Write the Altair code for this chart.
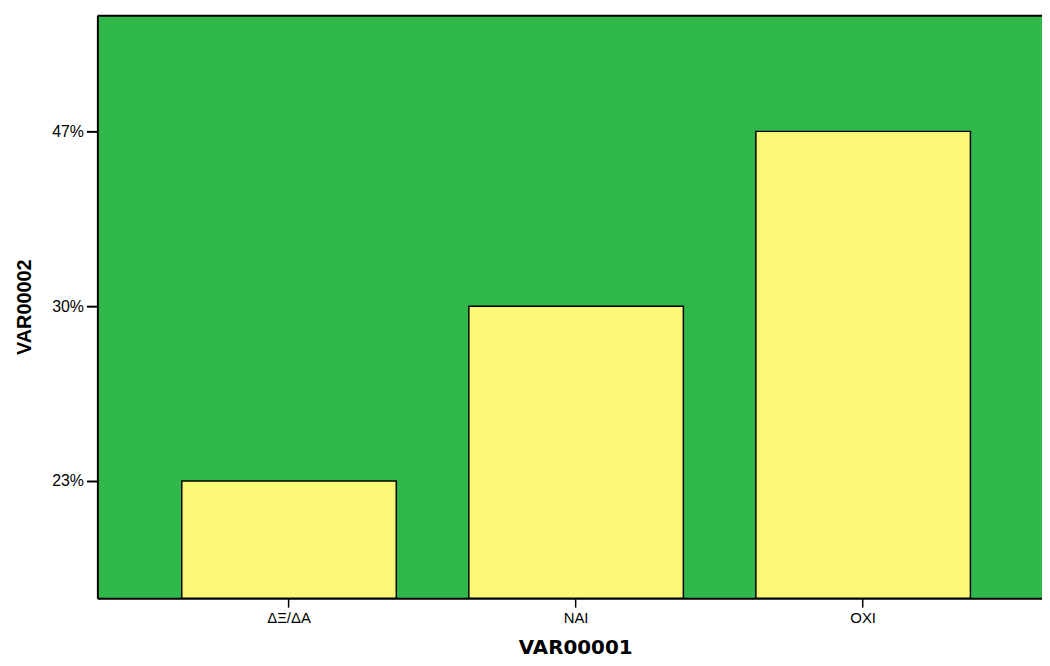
import altair as alt
import pandas as pd

# Data
categories = ["ΔΞ/ΔΑ", "ΝΑΙ", "ΟΧΙ"]
percent = [23.33, 30.0, 46.67]

df = pd.DataFrame({"VAR00001": categories, "VAR00002": percent})

GREEN = "#31B84B"
YELLOW = "#FBF777"

W, H = 951, 587
y_lo, y_hi = 18.86, 57.75

x_scale = alt.Scale(paddingInner=0.2526, paddingOuter=0.2716, align=0.541)
y_scale = alt.Scale(
    domain=[y_lo] + percent + [y_hi],
    range=[587, 469, 293, 117, 0],
    zero=False,
    nice=False,
)

base = alt.Chart(df)

bars = base.mark_bar(color=YELLOW, stroke="black", strokeWidth=1.5).encode(
    x=alt.X(
        "VAR00001:N",
        sort=categories,
        scale=x_scale,
        axis=alt.Axis(
            orient="bottom",
            title="VAR00001",
            labelAngle=0,
            labelFont="Liberation Sans",
            labelFontSize=15,
            labelColor="black",
            labelPadding=3,
            tickSize=9,
            tickWidth=1.5,
            tickColor="black",
            domainColor="black",
            domainWidth=2,
            titleFont="DejaVu Sans",
            titleFontSize=20,
            titleFontWeight="bold",
            titleColor="black",
            titleX=481,
            titleY=56,
            titleBaseline="alphabetic",
            grid=False,
        ),
    ),
    y=alt.Y(
        "VAR00002:Q",
        scale=y_scale,
        axis=alt.Axis(
            orient="left",
            values=percent,
            labelExpr="format(datum.value, '.0f') + '%'",
            title="VAR00002",
            labelFont="Liberation Sans",
            labelFontSize=16,
            labelColor="black",
            labelPadding=3,
            tickSize=11,
            tickWidth=2,
            tickColor="black",
            domainColor="black",
            domainWidth=2,
            titleFont="Liberation Sans",
            titleFontSize=20,
            titleFontWeight="bold",
            titleColor="black",
            titleX=-67,
            titleY=293.5,
            titleBaseline="alphabetic",
            grid=False,
        ),
    ),
    y2=alt.Y2Datum(y_lo),
)

top_border = base.mark_bar(opacity=0).encode(
    x=alt.X(
        "VAR00001:N",
        sort=categories,
        scale=x_scale,
        axis=alt.Axis(
            orient="top",
            labels=False,
            ticks=False,
            title=None,
            domainColor="black",
            domainWidth=2,
            grid=False,
        ),
    ),
    y=alt.Y("VAR00002:Q", scale=y_scale, axis=None),
    y2=alt.Y2Datum(y_lo),
)

chart = (
    alt.layer(bars, top_border)
    .resolve_axis(x="independent", y="independent")
    .properties(
        width=W,
        height=H,
        autosize=alt.AutoSizeParams(type="none"),
        padding={"left": 90, "top": 5, "right": 0, "bottom": 60},
        background="white",
    )
    .configure_view(fill=GREEN, stroke=None)
)

chart.save("out.html", embed_options={"renderer": "svg", "actions": False})
